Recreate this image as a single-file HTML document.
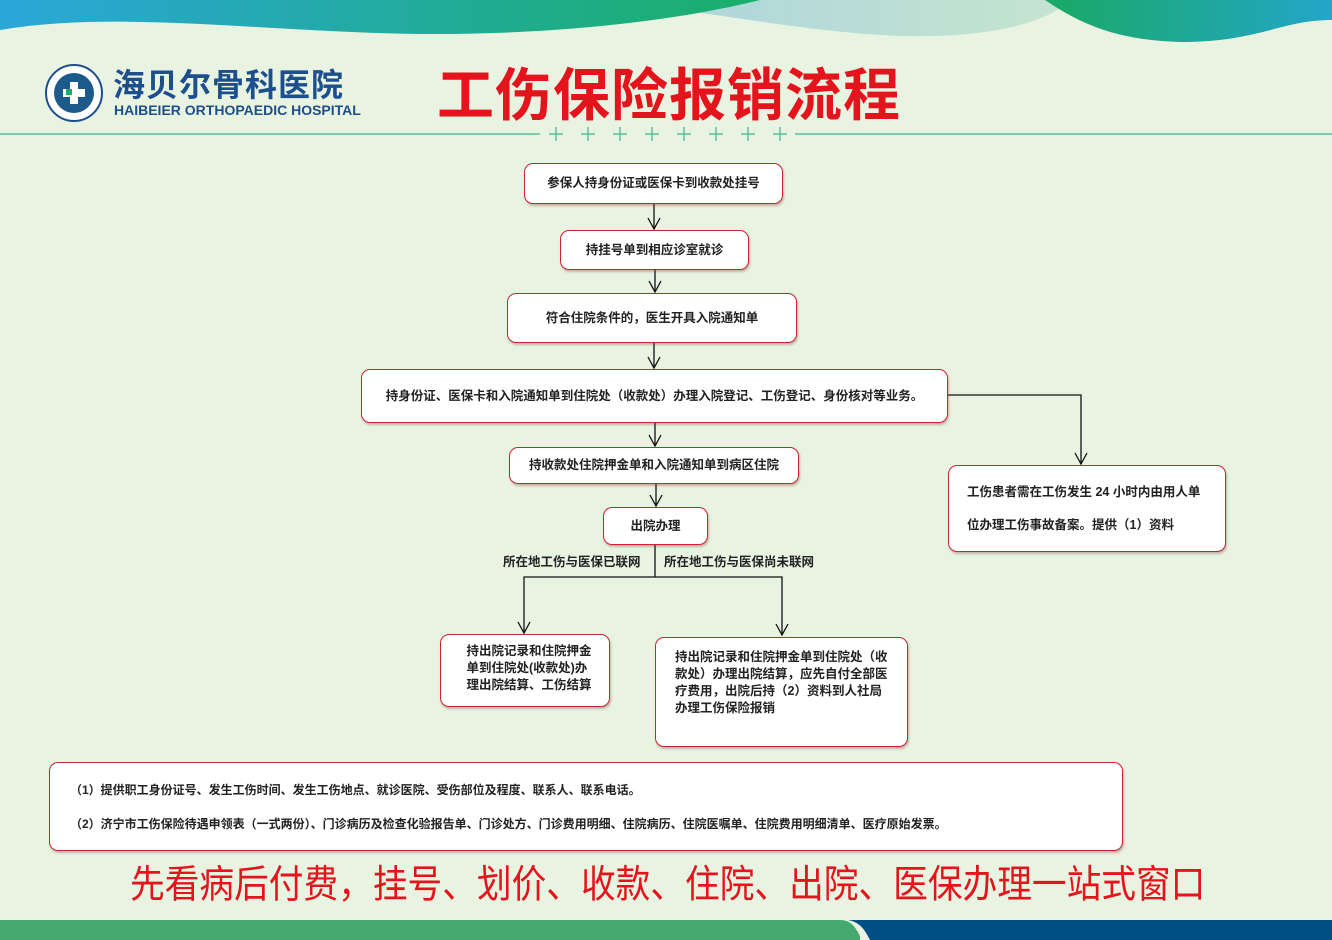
<!DOCTYPE html>
<html><head><meta charset="utf-8"><style>
*{margin:0;padding:0;box-sizing:border-box}
body{width:1332px;height:940px;overflow:hidden;background:#e9f3e2;position:relative;font-family:"Liberation Sans","Noto Sans CJK SC",sans-serif}
.b{position:absolute;background:#fff;border:1.5px solid #c9252c;border-radius:9px;box-shadow:1px 2px 2px rgba(120,60,60,.35);font-size:12.5px;font-weight:bold;color:#222;display:flex;align-items:center;justify-content:center;text-align:left;line-height:17px}
.t{position:absolute;font-weight:bold;white-space:nowrap;line-height:1}
</style></head><body>
<svg width="1332" height="940" style="position:absolute;left:0;top:0">
<defs>
<linearGradient id="g1" x1="0" x2="1"><stop offset="0" stop-color="#2aa7d9"/><stop offset="1" stop-color="#1aaf6a"/></linearGradient>
<linearGradient id="g2" x1="0" x2="1"><stop offset="0" stop-color="#a9d4df"/><stop offset="1" stop-color="#c6e4cf"/></linearGradient>
<linearGradient id="g3" x1="0" x2="1"><stop offset="0" stop-color="#19a964"/><stop offset="1" stop-color="#23a6c9"/></linearGradient>
<marker id="a" markerWidth="14" markerHeight="14" refX="12" refY="7" orient="auto" markerUnits="userSpaceOnUse"><path d="M1 1 L12 7 L1 13" fill="none" stroke="#111" stroke-width="1.3"/></marker>
</defs>
<path d="M600 0 L1070 0 C1040 30 960 40 880 35 C780 28 700 10 600 0Z" fill="url(#g2)"/>
<path d="M0 0 L760 0 C680 20 560 35 420 34 C260 32 120 10 0 30Z" fill="url(#g1)"/>
<path d="M1045 0 L1332 0 L1332 20 C1280 20 1260 42 1180 42 C1110 40 1075 20 1045 0Z" fill="url(#g3)"/>
<line x1="0" y1="134" x2="540" y2="134" stroke="#5bbf9e" stroke-width="1.5"/>
<line x1="795" y1="134" x2="1332" y2="134" stroke="#5bbf9e" stroke-width="1.5"/>
<g stroke="#5bbf9e" stroke-width="1.5">
<path d="M549 134h14M556 127v14M581 134h14M588 127v14M613 134h14M620 127v14M645 134h14M652 127v14M677 134h14M684 127v14M709 134h14M716 127v14M741 134h14M748 127v14M773 134h14M780 127v14"/>
</g>
<circle cx="74" cy="93" r="28" fill="#fff" stroke="#1d4f8c" stroke-width="2"/>
<circle cx="74" cy="93" r="20" fill="#1d5a8c"/>
<path d="M70 82h8v7h7v8h-7v7h-8v-7h-7v-8h7z" fill="#fff"/>
<path d="M66 89h6v6h-6z" fill="#1aaf6a"/>
<g stroke="#111" stroke-width="1.3" fill="none">
<line x1="654" y1="204" x2="654" y2="229" marker-end="url(#a)"/>
<line x1="655" y1="270" x2="655" y2="292" marker-end="url(#a)"/>
<line x1="654" y1="343" x2="654" y2="368" marker-end="url(#a)"/>
<line x1="655" y1="423" x2="655" y2="446" marker-end="url(#a)"/>
<line x1="656" y1="484" x2="656" y2="506" marker-end="url(#a)"/>
<polyline points="948,395 1081,395 1081,464" marker-end="url(#a)"/>
<line x1="655" y1="545" x2="655" y2="577"/>
<polyline points="655,577 524,577 524,633" marker-end="url(#a)"/>
<polyline points="655,577 782,577 782,635" marker-end="url(#a)"/>
</g>
<rect x="0" y="920" width="860" height="20" fill="#45aa6e"/>
<path d="M840 920 C852 920 856 928 862 940 L1332 940 L1332 920Z" fill="#e9f3e2"/>
<path d="M848 920 L1332 920 L1332 940 L870 940 C865 930 860 922 848 920Z" fill="#004f84"/>
</svg>
<div class="t" style="left:113px;top:69px;font-size:32px;color:#1d4f8c;letter-spacing:1px">海贝尔骨科医院</div>
<div class="t" style="left:114px;top:103px;font-size:14px;color:#1d4f8c">HAIBEIER ORTHOPAEDIC HOSPITAL</div>
<div class="t" style="left:437px;top:68px;font-size:57px;color:#e3141c;letter-spacing:1px">工伤保险报销流程</div>
<div class="b" style="left:524px;top:163px;width:259px;height:41px">参保人持身份证或医保卡到收款处挂号</div>
<div class="b" style="left:560px;top:230px;width:189px;height:40px">持挂号单到相应诊室就诊</div>
<div class="b" style="left:507px;top:293px;width:290px;height:50px">符合住院条件的，医生开具入院通知单</div>
<div class="b" style="left:361px;top:369px;width:587px;height:54px">持身份证、医保卡和入院通知单到住院处（收款处）办理入院登记、工伤登记、身份核对等业务。</div>
<div class="b" style="left:509px;top:447px;width:290px;height:37px">持收款处住院押金单和入院通知单到病区住院</div>
<div class="b" style="left:603px;top:507px;width:105px;height:38px">出院办理</div>
<div class="b" style="left:948px;top:465px;width:278px;height:87px;justify-content:flex-start;padding-left:18px;line-height:33px">工伤患者需在工伤发生 24 小时内由用人单<br>位办理工伤事故备案。提供（1）资料</div>
<div class="t" style="left:503px;top:556px;font-size:12.5px;color:#222">所在地工伤与医保已联网</div>
<div class="t" style="left:664px;top:556px;font-size:12.5px;color:#222">所在地工伤与医保尚未联网</div>
<div class="b" style="left:440px;top:634px;width:170px;height:73px;padding:0 8px 4px 16px">持出院记录和住院押金<br>单到住院处(收款处)办<br>理出院结算、工伤结算</div>
<div class="b" style="left:655px;top:637px;width:253px;height:110px;align-items:flex-start;padding:11px 14px 0 19px">持出院记录和住院押金单到住院处（收款处）办理出院结算，应先自付全部医疗费用，出院后持（2）资料到人社局办理工伤保险报销</div>
<div class="b" style="left:49px;top:762px;width:1074px;height:89px;display:block;padding:10px 0 0 20px;line-height:34px;font-size:12px">（1）提供职工身份证号、发生工伤时间、发生工伤地点、就诊医院、受伤部位及程度、联系人、联系电话。<br>（2）济宁市工伤保险待遇申领表（一式两份）、门诊病历及检查化验报告单、门诊处方、门诊费用明细、住院病历、住院医嘱单、住院费用明细清单、医疗原始发票。</div>
<div class="t" style="left:130px;top:866px;font-size:34.7px;color:#e3141c;font-weight:normal;transform:scaleY(1.12);transform-origin:top left">先看病后付费，挂号、划价、收款、住院、出院、医保办理一站式窗口</div>
</body></html>
